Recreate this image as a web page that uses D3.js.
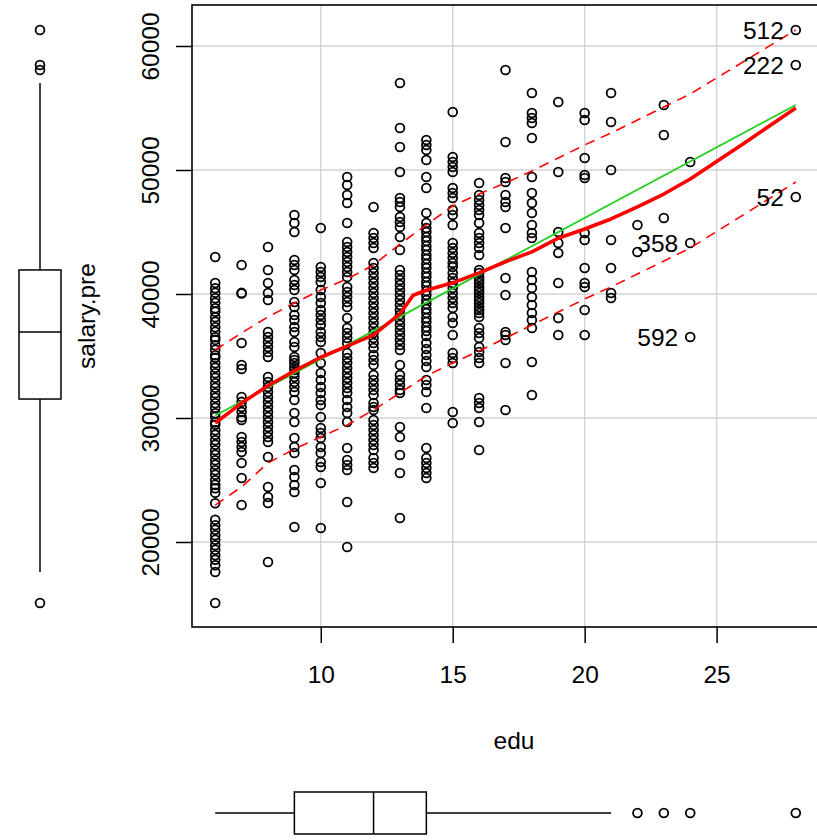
<!DOCTYPE html>
<html>
<head>
<meta charset="utf-8">
<script src="https://cdn.jsdelivr.net/npm/d3@7"></script>
<style>
  html, body { margin: 0; padding: 0; background: #fff; }
  svg { display: block; font-family: "Liberation Sans", Arial, sans-serif; }
</style>
</head>
<body>
<svg id="chart" width="817" height="840"></svg>
<script>
// Years of education (x) and previous salary (y), grouped by education level
const eduLevels = [6, 7, 8, 9, 10, 11, 12, 13, 14, 15, 16, 17, 18, 19, 20, 21, 22, 23, 24, 28];

const salary06 = [42980, 40890, 40460, 40100, 39650, 39300, 38850, 38560, 38120, 37760, 37310, 36950, 36510, 36300,
  35870, 35500, 35060, 34850, 34420, 34050, 33600, 33240, 32800, 32440, 32000, 31630, 31190, 30820, 30380, 30100,
  29650, 29450, 29010, 28650, 28210, 27840, 27400, 27030, 26590, 26230, 25790, 25420, 24980, 24610, 24340, 23970,
  23130, 21790, 21350, 20990, 20550, 20180, 19740, 19370, 18930, 18570, 18130, 17580, 15080];
const salary07 = [42340, 40090, 40040, 36050, 34270, 33950, 31690, 31300, 30880, 30490, 30070, 29840, 28470, 28060,
  27670, 27250, 26370, 25160, 22980];
const salary08 = [43790, 41940, 40890, 40080, 39520, 36940, 36530, 36130, 35730, 35320, 34920, 33310, 32900, 32500,
  32100, 31690, 31290, 30890, 30480, 30080, 29680, 29270, 28870, 28470, 28060, 26850, 24440, 23630, 23150, 18390];
const salary09 = [46370, 45730, 45000, 42740, 42340, 41940, 41130, 40730, 40320, 39350, 38950, 38310, 37900, 37340,
  36940, 36130, 35730, 34920, 34680, 34440, 34110, 33870, 33630, 33310, 32900, 32500, 32100, 31450, 30400, 29680,
  28390, 27660, 27180, 25810, 25240, 24600, 24030, 21210];
const salary10 = [45320, 42180, 41770, 41370, 40970, 40320, 39760, 39270, 38710, 38310, 37900, 37500, 36940, 36530,
  36130, 35240, 34440, 33630, 33060, 32500, 32020, 31450, 31050, 30080, 29190, 28790, 28390, 27660, 27180, 26450,
  26050, 24760, 21130];
const salary11 = [49440, 48790, 47980, 47340, 45730, 44190, 43790, 43390, 42980, 42580, 42180, 41770, 41370, 40560,
  40160, 39760, 39350, 38950, 38060, 37260, 36850, 36450, 36050, 35240, 34840, 34440, 34030, 33630, 33230, 32820,
  32420, 32020, 31450, 30890, 30400, 29680, 27580, 26610, 26210, 25810, 23230, 19600];
const salary12 = [47020, 44920, 44520, 44110, 43710, 42500, 42100, 41690, 41290, 40890, 40480, 40080, 39680, 39270,
  38870, 38470, 38060, 37660, 37260, 36850, 36450, 36050, 35650, 35080, 34680, 34270, 33470, 33060, 32660, 32260,
  31850, 31210, 30890, 30650, 29840, 29440, 29030, 28630, 28230, 27820, 27420, 26770, 26370, 25970];
const salary13 = [57020, 53390, 51850, 49840, 47740, 47420, 47020, 46210, 45810, 45400, 44600, 43550, 41940, 41530,
  41130, 40730, 40320, 39920, 39520, 39110, 38710, 38310, 37900, 37500, 37100, 36690, 36290, 35890, 35480, 34270,
  33470, 33060, 32660, 32260, 32020, 29270, 28470, 27020, 25560, 21940];
const salary14 = [52420, 52020, 51610, 50810, 49440, 48550, 46530, 45730, 45320, 45000, 44600, 44270, 43870, 43550,
  43150, 42820, 42420, 42100, 41690, 41370, 40970, 40650, 40240, 39920, 39520, 39190, 38790, 38470, 38060, 37740,
  37340, 37020, 36610, 36050, 35560, 35080, 34600, 34110, 33060, 32660, 32100, 30810, 27580, 26770, 26370, 25970,
  25560, 25160];
const salary15 = [54680, 51050, 50650, 50240, 49840, 48550, 48150, 47740, 46770, 46370, 45560, 44110, 43710, 43310,
  42900, 42500, 42180, 41690, 41290, 40890, 40480, 40080, 39680, 39270, 38870, 38150, 37660, 36690, 35240, 34840,
  34440, 30480, 29600];
const salary16 = [48950, 47980, 47580, 47180, 46770, 46370, 45730, 44920, 44520, 44110, 43710, 43150, 41940, 41690,
  41370, 41130, 40890, 40560, 40320, 40080, 39760, 39520, 39270, 38950, 38710, 38470, 38150, 37260, 36850, 36450,
  35730, 35320, 34840, 34440, 31610, 31210, 30810, 29680, 27420];
const salary17 = [58070, 52260, 49350, 49030, 47980, 47420, 47020, 45320, 41290, 39920, 36940, 36690, 36290, 34440, 30650];
const salary18 = [56210, 54600, 54190, 53790, 52580, 49440, 48150, 47340, 46530, 45560, 44920, 44520, 41770, 41130,
  40480, 39760, 39110, 38470, 37900, 37260, 34520, 31850];
const salary19 = [55480, 49840, 45000, 44110, 43310, 40890, 38060, 36690];
const salary20 = [54600, 54030, 50970, 49600, 49350, 44920, 44350, 42100, 40890, 40560, 38710, 36690];
const salary21 = [56210, 53870, 50000, 44350, 42100, 40080, 39680];
const salary22 = [45560, 43390];
const salary23 = [55240, 52820, 46130];
const salary24 = [50650, 44110, 36530];
const salary28 = [61290, 58470, 47820];

const salaryGroups = [salary06, salary07, salary08, salary09, salary10, salary11, salary12, salary13, salary14,
  salary15, salary16, salary17, salary18, salary19, salary20, salary21, salary22, salary23, salary24, salary28];

// Identified cases
const labelIds = ["512", "222", "52", "358", "592"];
const labelEdu = [28, 28, 28, 24, 24];
const labelSalary = [61290, 58470, 47820, 44110, 36530];

// Least-squares line
const fitEdu = [6, 28];
const fitSalary = [30200, 55240];

// Nonparametric smooth with spread bands
const smoothEdu = [6, 7, 8, 9, 10, 11, 12, 13, 13.5, 14, 15, 16, 17, 18, 19, 20, 21, 22, 23, 24, 26, 28];
const smoothSalary = [29600, 31200, 32600, 33800, 34900, 35800, 36700, 38400, 39900, 40300, 40900, 41700, 42600,
  43400, 44500, 45240, 46050, 47020, 48060, 49270, 52100, 55000];
const bandEdu = [6, 7, 8, 9, 10, 11, 12, 13, 14, 15, 16, 17, 18, 19, 20, 21, 22, 23, 24, 28];
const bandUpper = [35480, 36860, 38150, 39270, 40320, 41210, 42340, 44030, 45570, 47100, 48070, 48950, 49920,
  50970, 52020, 52980, 54030, 55080, 56130, 61290];
const bandLower = [22980, 24440, 26370, 27500, 28470, 29440, 30650, 32020, 33390, 34440, 35400, 36450, 37500,
  38550, 39600, 40570, 41610, 42660, 43710, 49030];

// Marginal box plots: [lower whisker, Q1, median, Q3, upper whisker] and outliers
const salaryBox = [17580, 31530, 36940, 41940, 57020];
const salaryOutliers = [61290, 58470, 58070, 15080];
const eduBox = [6, 9, 12, 14, 21];
const eduOutliers = [22, 23, 24, 28];

// Axis ticks
const xTicks = [10, 15, 20, 25];
const yTicks = [20000, 30000, 40000, 50000, 60000];
const xTitle = "edu";
const yTitle = "salary.pre";

const svg = d3.select("#chart");
const plot = { left: 192, right: 819, top: 5, bottom: 627 };

const x = d3.scaleLinear().domain([5.12, 28.88]).range([plot.left, plot.right]);
const y = d3.scaleLinear().domain([13145, 63306]).range([plot.bottom, plot.top]);

const FONT = 24.5;
const PT_R = 4.4, PT_W = 1.8;

svg.append("rect").attr("width", 817).attr("height", 840).attr("fill", "#fff");

// Grid
const grid = svg.append("g").attr("stroke", "#d3d3d3").attr("stroke-width", 1.4);
grid.selectAll("line.v").data(xTicks).join("line")
  .attr("x1", d => x(d)).attr("x2", d => x(d))
  .attr("y1", plot.top).attr("y2", plot.bottom);
grid.selectAll("line.h").data(yTicks).join("line")
  .attr("x1", plot.left).attr("x2", plot.right)
  .attr("y1", d => y(d)).attr("y2", d => y(d));

// Points
const points = eduLevels.flatMap((e, i) => salaryGroups[i].map(s => ({ edu: e, salary: s })));
svg.append("g")
  .selectAll("circle").data(points).join("circle")
  .attr("cx", d => x(d.edu)).attr("cy", d => y(d.salary))
  .attr("r", PT_R)
  .attr("fill", "none").attr("stroke", "#000").attr("stroke-width", PT_W);

// Lines
svg.append("clipPath").attr("id", "plotclip")
  .append("rect").attr("x", plot.left).attr("y", plot.top)
  .attr("width", plot.right - plot.left).attr("height", plot.bottom - plot.top);

const lineGen = d3.line().x(d => x(d[0])).y(d => y(d[1]));
const lines = svg.append("g").attr("clip-path", "url(#plotclip)").attr("fill", "none");

lines.append("path")
  .attr("d", lineGen(fitEdu.map((e, i) => [e, fitSalary[i]])))
  .attr("stroke", "#22d022").attr("stroke-width", 1.8);

lines.append("path")
  .attr("d", lineGen(smoothEdu.map((e, i) => [e, smoothSalary[i]])))
  .attr("stroke", "#ff0000").attr("stroke-width", 3.6).attr("stroke-linejoin", "round");

[bandUpper, bandLower].forEach(band => {
  lines.append("path")
    .attr("d", lineGen(bandEdu.map((e, i) => [e, band[i]])))
    .attr("stroke", "#ff0000").attr("stroke-width", 1.6)
    .attr("stroke-dasharray", "10,7");
});

// Case labels
svg.append("g")
  .selectAll("text").data(labelIds).join("text")
  .attr("x", (d, i) => x(labelEdu[i]) - 12)
  .attr("y", (d, i) => y(labelSalary[i]))
  .attr("dy", "0.36em")
  .attr("text-anchor", "end")
  .attr("font-size", FONT)
  .attr("fill", "#000")
  .text(d => d);

// Frame
svg.append("rect")
  .attr("x", plot.left).attr("y", plot.top)
  .attr("width", plot.right - plot.left).attr("height", plot.bottom - plot.top)
  .attr("fill", "none").attr("stroke", "#000").attr("stroke-width", 1.6);

// Axes
const xAxis = svg.append("g")
  .attr("transform", `translate(0,${plot.bottom})`)
  .call(d3.axisBottom(x).tickValues(xTicks).tickSize(16).tickFormat(d3.format("d")));
xAxis.select(".domain").remove();
xAxis.selectAll(".tick line").attr("stroke", "#000").attr("stroke-width", 1.5);
xAxis.selectAll(".tick text")
  .attr("y", 47).attr("dy", "0.36em")
  .attr("font-size", FONT).attr("font-family", "Liberation Sans, Arial, sans-serif").attr("fill", "#000");

const yAxis = svg.append("g")
  .attr("transform", `translate(${plot.left},0)`)
  .call(d3.axisLeft(y).tickValues(yTicks).tickSize(16).tickFormat(d3.format("d")));
yAxis.select(".domain").remove();
yAxis.selectAll(".tick line").attr("stroke", "#000").attr("stroke-width", 1.5);
yAxis.selectAll(".tick text")
  .attr("x", 0).attr("dy", "0.36em")
  .attr("text-anchor", "middle")
  .attr("transform", "translate(-42,0) rotate(-90)")
  .attr("font-size", FONT).attr("font-family", "Liberation Sans, Arial, sans-serif").attr("fill", "#000");

// Axis titles
svg.append("text")
  .attr("x", 514).attr("y", 740).attr("dy", "0.36em")
  .attr("text-anchor", "middle").attr("font-size", FONT).text(xTitle);
svg.append("text")
  .attr("transform", `translate(86,${(plot.top + plot.bottom) / 2}) rotate(-90)`)
  .attr("dy", "0.36em")
  .attr("text-anchor", "middle").attr("font-size", FONT).text(yTitle);

// Marginal box plot for salary (left)
const bxL = 40, halfW = 21;
const left = svg.append("g").attr("stroke", "#000").attr("stroke-width", 1.5).attr("fill", "none");
left.append("line").attr("x1", bxL).attr("x2", bxL).attr("y1", y(salaryBox[4])).attr("y2", y(salaryBox[3]));
left.append("line").attr("x1", bxL).attr("x2", bxL).attr("y1", y(salaryBox[1])).attr("y2", y(salaryBox[0]));
left.append("rect").attr("x", bxL - halfW).attr("width", 2 * halfW)
  .attr("y", y(salaryBox[3])).attr("height", y(salaryBox[1]) - y(salaryBox[3]));
left.append("line").attr("x1", bxL - halfW).attr("x2", bxL + halfW)
  .attr("y1", y(salaryBox[2])).attr("y2", y(salaryBox[2]));
left.selectAll("circle").data(salaryOutliers).join("circle")
  .attr("cx", bxL).attr("cy", d => y(d)).attr("r", PT_R).attr("stroke-width", PT_W);

// Marginal box plot for education (bottom)
const byB = 813, halfH = 21;
const bottom = svg.append("g").attr("stroke", "#000").attr("stroke-width", 1.5).attr("fill", "none");
bottom.append("line").attr("y1", byB).attr("y2", byB).attr("x1", x(eduBox[0])).attr("x2", x(eduBox[1]));
bottom.append("line").attr("y1", byB).attr("y2", byB).attr("x1", x(eduBox[3])).attr("x2", x(eduBox[4]));
bottom.append("rect").attr("y", byB - halfH).attr("height", 2 * halfH)
  .attr("x", x(eduBox[1])).attr("width", x(eduBox[3]) - x(eduBox[1]));
bottom.append("line").attr("y1", byB - halfH).attr("y2", byB + halfH)
  .attr("x1", x(eduBox[2])).attr("x2", x(eduBox[2]));
bottom.selectAll("circle").data(eduOutliers).join("circle")
  .attr("cx", d => x(d)).attr("cy", byB).attr("r", PT_R).attr("stroke-width", PT_W);
</script>
</body>
</html>
